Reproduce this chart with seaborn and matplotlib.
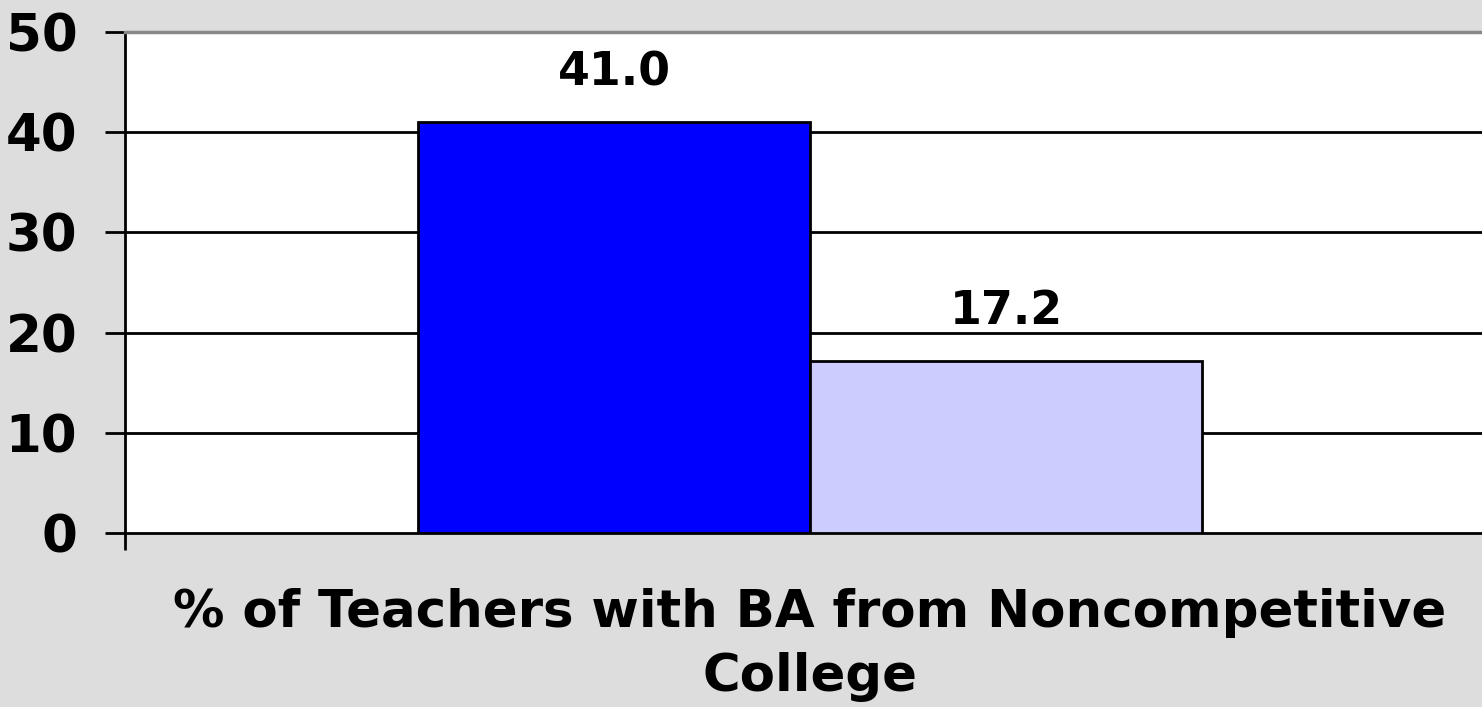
import pandas as pd
import seaborn as sns
import matplotlib.pyplot as plt

# chart data
category = ["% of Teachers with BA from Noncompetitive\nCollege"]
series = ["Series 1", "Series 2"]
values = [41.0, 17.2]
yticks = [0, 10, 20, 30, 40, 50]

df = pd.DataFrame({
    "category": category * len(series),
    "series": series,
    "value": values,
})

sns.set_theme(style="white")
plt.rcParams['font.family'] = ['DejaVu Sans']
plt.rcParams['font.weight'] = 'bold'
plt.rcParams['text.color'] = 'black'
plt.rcParams['axes.labelcolor'] = 'black'
plt.rcParams['xtick.color'] = 'black'
plt.rcParams['ytick.color'] = 'black'

fig = plt.figure(figsize=(14.82, 7.07), dpi=100, facecolor="#DDDDDD")
ax = fig.add_axes([0.0844, 0.2461, 0.9244, 0.7086])
ax.set_facecolor("white")

sns.barplot(data=df, x="category", y="value", hue="series",
            palette=["#0000FF", "#CCCCFF"], saturation=1, width=0.572, gap=0,
            edgecolor="black", linewidth=2, legend=False, ax=ax, zorder=3)

# value labels on top of bars
for patch, v in zip(ax.patches, values):
    ax.annotate(f"{v:.1f}", (patch.get_x() + patch.get_width() / 2, patch.get_height()),
                xytext=(0, 26.5), textcoords="offset points",
                ha="center", va="baseline", fontsize=33, fontweight="bold", color="black")

ax.set_ylim(0, 50)
ax.set_xlim(-0.5, 0.5)
ax.set_yticks(yticks)
ax.set_yticklabels([str(t) for t in yticks], fontsize=37, fontweight="bold", color="black")
for t in yticks[1:-1]:
    ax.axhline(t, color="black", lw=2, zorder=1)

ax.set_xticks([-0.5, 0.5])
ax.set_xticklabels(["", ""])
ax.tick_params(axis="y", direction="out", length=14.4, width=2, pad=20, color="black", left=True)
ax.tick_params(axis="x", direction="out", length=12, width=2, color="black", bottom=True)

ax.set_xlabel(category[0], fontsize=37, fontweight="bold", linespacing=1.35, color="black")
ax.xaxis.set_label_coords(0.5, -0.11)
ax.set_ylabel("")

for side in ["left", "bottom"]:
    ax.spines[side].set_color("black")
    ax.spines[side].set_linewidth(2)
ax.spines["top"].set_color("#888888")
ax.spines["top"].set_linewidth(2.5)
ax.spines["right"].set_visible(False)

fig.savefig("out.png", dpi=100, facecolor=fig.get_facecolor())
